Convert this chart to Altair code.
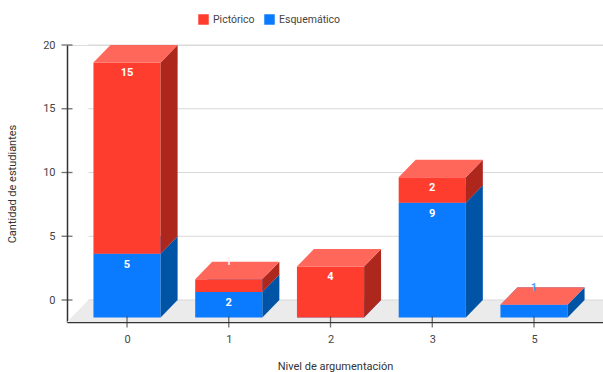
import altair as alt
import pandas as pd

# ---- data ----
levels = ["0", "1", "2", "3", "5"]
series_names = ["Esquemático", "Pictórico"]          # stacking order (bottom -> top)
esquematico = [5, 2, 0, 9, 1]
pictorico = [15, 1, 4, 2, 0]
y_ticks = [0, 5, 10, 15, 20]

# ---- style ----
RED, RED_TOP, RED_SIDE = "#ff3d2e", "#ff675b", "#ad271d"
BLUE, BLUE_TOP, BLUE_SIDE = "#0a7bff", "#4a9cff", "#0054a6"
FONT = "Roboto"
faces = {
    "Esquemático": (BLUE, BLUE_TOP, BLUE_SIDE, "#4f9fff"),
    "Pictórico": (RED, RED_TOP, RED_SIDE, "#fff0ee"),
}

# geometry in data units (3D depth effect)
XMIN, XMAX = -0.59, 4.678
YMIN, YMAX = -1.725, 20
HW = 0.33        # half width of a bar's front face
DX = 0.167       # depth, horizontal
DY = 1.38        # depth, vertical
FDX = 0.21       # floor depth, horizontal

xs = alt.Scale(domain=[XMIN, XMAX], nice=False, zero=False)
ys = alt.Scale(domain=[YMIN, YMAX], nice=False, zero=False)

AX_Y = alt.Axis(values=y_ticks, grid=False, ticks=False, domain=True,
                domainColor="#333333", domainWidth=1.5,
                labelFont=FONT, labelFontSize=11, labelColor="#444444",
                labelPadding=12, title="Cantidad de estudiantes",
                titleFont=FONT, titleFontSize=11, titleFontWeight="normal",
                titleColor="#333333", titlePadding=25)
AX_X = alt.Axis(values=list(range(len(levels))), grid=False, ticks=False,
                domain=True, domainColor="#333333", domainWidth=1.5,
                labelExpr="%s[datum.value]" % str(levels),
                labelFont=FONT, labelFontSize=11, labelColor="#444444",
                labelPadding=11, title="Nivel de argumentación",
                titleFont=FONT, titleFontSize=11, titleFontWeight="normal",
                titleColor="#333333", titlePadding=16)


def X(f, **kw):
    return alt.X(f, type="quantitative", scale=xs, axis=AX_X, **kw)


def Y(f, **kw):
    return alt.Y(f, type="quantitative", scale=ys, axis=AX_Y, stack=None, **kw)


values = {"Esquemático": esquematico, "Pictórico": pictorico}

front_rows, side_rows, top_rows, label_rows = [], [], [], []
for i, lv in enumerate(levels):
    base = 0
    for s in series_names:
        v = values[s][i]
        start, end = base, base + v
        base = end
        seg = f"{lv}-{s}"
        front_rows.append(dict(series=s, seg=seg, x=i - HW, x2=i + HW, y=start - DY, y2=end - DY))
        side_rows += [
            dict(series=s, seg=seg, x=i + HW, y=start - DY, y2=end - DY),
            dict(series=s, seg=seg, x=i + HW + DX, y=start, y2=end),
        ]
        top_rows += [
            dict(series=s, seg=seg, y=end - DY, x=i - HW, x2=i + HW),
            dict(series=s, seg=seg, y=end, x=i - HW + DX, x2=i + HW + DX),
        ]
        if v > 0:
            if v >= 2:
                ly, col = end - DY - 0.85, "#ffffff"
            else:
                ly, col = end - DY + 1.35, faces[s][3]
            label_rows.append(dict(x=i, y=ly, txt=str(v), col=col))

front_df = pd.DataFrame(front_rows)
side_df = pd.DataFrame(side_rows)
top_df = pd.DataFrame(top_rows)
label_df = pd.DataFrame(label_rows)

# floor, grid and axes
floor_df = pd.DataFrame([
    dict(y=YMIN, x=XMIN, x2=XMAX),
    dict(y=0, x=XMIN + FDX, x2=XMAX),
])
floor = alt.Chart(floor_df).mark_area(orient="horizontal", color="#ebebeb").encode(
    y=Y("y:Q"), x=X("x:Q"), x2="x2:Q")

grid_df = pd.DataFrame({"y": y_ticks, "x": XMIN + FDX, "x2": XMAX})
grid = alt.Chart(grid_df).mark_rule(color="#d9d9d9", strokeWidth=1).encode(
    x=X("x:Q"), x2="x2:Q", y=Y("y:Q"))

ytick_df = pd.DataFrame({"y": y_ticks, "x": XMIN})
yticks = alt.Chart(ytick_df).mark_tick(orient="horizontal", size=11, thickness=1.3,
                                       color="#333333").encode(x=X("x:Q"), y=Y("y:Q"))
xtick_df = pd.DataFrame({"x": list(range(len(levels))), "y": YMIN})
xticks = alt.Chart(xtick_df).mark_tick(orient="vertical", size=11, thickness=1.3,
                                       color="#333333").encode(x=X("x:Q"), y=Y("y:Q"))

legend = alt.Legend(orient="none", legendX=131, legendY=-31, direction="horizontal",
                    title=None, symbolType="square", symbolSize=110, symbolStrokeWidth=0,
                    labelFont=FONT, labelFontSize=10.5, labelColor="#444444",
                    columnPadding=9, symbolOffset=0)
color_scale = alt.Scale(domain=["Pictórico", "Esquemático"], range=[RED, BLUE])

layers = [floor, grid]
for s in series_names:
    front_c, top_c, side_c, _ = faces[s]
    layers.append(
        alt.Chart(front_df[front_df.series == s]).mark_rect().encode(
            x=X("x:Q"), x2="x2:Q", y=Y("y:Q"), y2="y2:Q",
            color=alt.Color("series:N", scale=color_scale, legend=legend))
    )
    layers.append(
        alt.Chart(side_df[side_df.series == s]).mark_area(orient="vertical", color=side_c).encode(
            x=X("x:Q"), y=Y("y:Q"), y2="y2:Q", detail="seg:N")
    )
    layers.append(
        alt.Chart(top_df[top_df.series == s]).mark_area(orient="horizontal", color=top_c).encode(
            y=Y("y:Q"), x=X("x:Q"), x2="x2:Q", detail="seg:N")
    )

labels = alt.Chart(label_df).mark_text(font=FONT, fontSize=11, fontWeight="bold",
                                       baseline="middle", align="center").encode(
    x=X("x:Q"), y=Y("y:Q"), text="txt:N", color=alt.Color("col:N", scale=None))

layers += [labels, yticks, xticks]

chart = alt.layer(*layers).properties(
    width=536, height=277,
    autosize=alt.AutoSizeParams(type="none"),
    padding={"left": 67, "top": 45, "right": 0, "bottom": 50},
).configure_view(stroke=None).configure(background="white")

chart.save("out.html", embed_options={"renderer": "svg", "actions": False})
